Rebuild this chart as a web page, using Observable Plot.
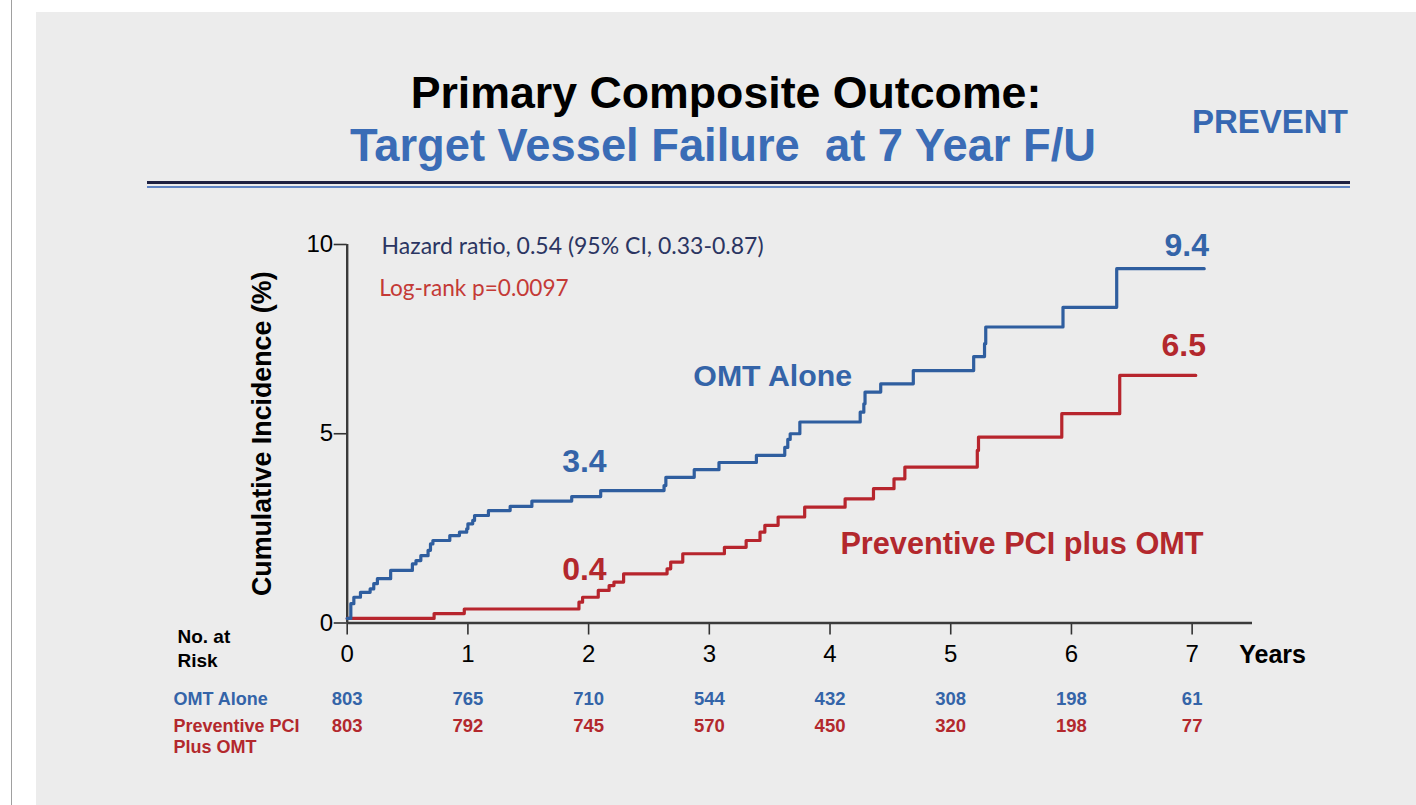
<!DOCTYPE html>
<html>
<head>
<meta charset="utf-8">
<script src="https://cdn.jsdelivr.net/npm/d3@7"></script>
<script src="https://cdn.jsdelivr.net/npm/@observablehq/plot@0.6"></script>
<style>
  html, body { margin: 0; padding: 0; background: #fff; }
  #page { position: relative; width: 1416px; height: 805px; overflow: hidden; background: #fff; font-family: "Liberation Sans", Arial, sans-serif; }
  .abs { position: absolute; }
  .title { left: 36px; right: 0; text-align: center; font-weight: bold; white-space: pre; }
</style>
</head>
<body>
<div id="page">
  <div class="abs" style="left:11px;top:0;width:1px;height:805px;background:#a0a0a0"></div>
  <div class="abs" style="left:36px;top:12px;right:0;bottom:0;background:#ececec"></div>
  <div class="abs title" id="t1" style="top:71px;color:#000;font-size:44.7px;line-height:44.7px">Primary Composite Outcome:</div>
  <div class="abs title" id="t2" style="top:123px;color:#3a6cb6;font-size:45.3px;line-height:45.3px;left:30px">Target Vessel Failure  at 7 Year F/U</div>
  <div class="abs" id="t3" style="left:1192px;top:105px;font-weight:bold;font-size:33px;line-height:33px;color:#3768b2">PREVENT</div>
  <div class="abs" style="left:147px;top:181px;width:1203px;height:3px;background:#1e2142"></div>
  <div class="abs" style="left:147px;top:186px;width:1203px;height:2px;background:#5f84c4"></div>
  <div class="abs" id="chart" style="left:0;top:200px"></div>
</div>
<script>
// ---- data ----
const omtYears  = [0, 0.03, 0.055, 0.11, 0.19, 0.22, 0.25, 0.36, 0.54, 0.57, 0.61, 0.67, 0.69, 0.71, 0.85, 0.93, 0.99, 1.0, 1.04, 1.055, 1.17, 1.35, 1.53, 1.86, 2.10, 2.625, 2.64, 2.875, 3.08, 3.39, 3.625, 3.65, 3.67, 3.75, 4.25, 4.28, 4.29, 4.42, 4.69, 5.19, 5.28, 5.29, 5.93, 6.375, 7.1];
const omtValues = [0.12, 0.51, 0.68, 0.81, 0.90, 1.04, 1.17, 1.39, 1.56, 1.65, 1.78, 1.92, 2.09, 2.18, 2.31, 2.40, 2.49, 2.62, 2.71, 2.84, 2.97, 3.08, 3.22, 3.34, 3.50, 3.63, 3.85, 4.05, 4.24, 4.43, 4.64, 4.85, 5.0, 5.31, 5.57, 5.79, 6.10, 6.32, 6.67, 7.04, 7.38, 7.82, 8.34, 9.36, 9.36];
const pciYears  = [0, 0.72, 0.97, 1.92, 1.95, 2.08, 2.17, 2.21, 2.29, 2.65, 2.68, 2.78, 3.125, 3.305, 3.42, 3.46, 3.57, 3.79, 4.125, 4.36, 4.53, 4.62, 5.22, 5.23, 5.92, 6.40, 7.03];
const pciValues = [0.12, 0.25, 0.37, 0.55, 0.68, 0.86, 0.99, 1.08, 1.30, 1.43, 1.61, 1.83, 2.0, 2.18, 2.40, 2.58, 2.80, 3.06, 3.28, 3.55, 3.81, 4.12, 4.56, 4.91, 5.53, 6.54, 6.54];
const riskYears = [0, 1, 2, 3, 4, 5, 6, 7];
const omtRisk   = [803, 765, 710, 544, 432, 308, 198, 61];
const pciRisk   = [803, 792, 745, 570, 450, 320, 198, 77];
const yTicks = [0, 5, 10];

// ---- styles ----
const BLUE = "#2f5e9f", RED = "#b7252d";
const BLUE_T = "#3464a8", RED_T = "#b3282d";
const F = "Liberation Sans, Arial, sans-serif";

const omt = omtYears.map((t, i) => ({t, v: omtValues[i]}));
const pci = pciYears.map((t, i) => ({t, v: pciValues[i]}));
const riskO = riskYears.map((t, i) => ({t, n: omtRisk[i]}));
const riskP = riskYears.map((t, i) => ({t, n: pciRisk[i]}));

const chart = Plot.plot({
  width: 1416, height: 605,
  marginLeft: 346.7, marginRight: 164, marginTop: 44, marginBottom: 182.5,
  x: {domain: [0, 7.5]},
  y: {domain: [0, 10]},
  style: {background: "transparent", fontFamily: F, color: "#000", overflow: "visible"},
  marks: [
    Plot.axisX({ticks: riskYears, tickSize: 12, tickPadding: 10, fontSize: 24, label: null, stroke: "#333", strokeWidth: 1.6, fill: "#000"}),
    Plot.axisY({ticks: yTicks, tickSize: 13, tickPadding: 1, fontSize: 24, label: null, stroke: "#333", strokeWidth: 1.6, fill: "#000"}),
    Plot.ruleY([0], {stroke: "#3a3a3a", strokeWidth: 2.4}),
    Plot.ruleX([0], {y1: 0, y2: 10, stroke: "#3a3a3a", strokeWidth: 2.4}),
    Plot.line(pci, {x: "t", y: "v", curve: "step-after", stroke: RED, strokeWidth: 3.2}),
    Plot.line(omt, {x: "t", y: "v", curve: "step-after", stroke: BLUE, strokeWidth: 3.2}),
    // y-axis title
    Plot.text(["Cumulative Incidence (%)"], {x: -0.7, y: 5, rotate: -90, fontSize: 26.8, fontWeight: "bold", fill: "#000"}),
    // statistics
    Plot.text(["Hazard ratio, 0.54 (95% CI, 0.33-0.87)"], {x: 0.285, y: 9.95, textAnchor: "start", fontSize: 23, fontFamily: "Lato, sans-serif", fill: "#2b3562"}),
    Plot.text(["Log-rank p=0.0097"], {x: 0.265, y: 8.84, textAnchor: "start", fontSize: 22.6, fontFamily: "Lato, sans-serif", fill: "#c43a36"}),
    // curve labels
    Plot.text(["OMT Alone"], {x: 3.525, y: 6.51, fontSize: 30.3, fontWeight: "bold", fill: BLUE_T}),
    Plot.text(["Preventive PCI plus OMT"], {x: 7.095, y: 2.07, textAnchor: "end", fontSize: 30.7, fontWeight: "bold", fill: RED_T}),
    Plot.text(["3.4"], {x: 1.965, y: 4.25, fontSize: 32, fontWeight: "bold", fill: BLUE_T}),
    Plot.text(["0.4"], {x: 1.965, y: 1.41, fontSize: 32, fontWeight: "bold", fill: RED_T}),
    Plot.text(["9.4"], {x: 6.955, y: 9.97, fontSize: 32, fontWeight: "bold", fill: BLUE_T}),
    Plot.text(["6.5"], {x: 6.93, y: 7.33, fontSize: 32, fontWeight: "bold", fill: RED_T}),
    // x-axis title
    Plot.text(["Years"], {x: 7.39, y: 0, dy: 32, textAnchor: "start", fontSize: 25, fontWeight: "bold", fill: "#000"}),
    // number at risk table
    Plot.text(["No. at"], {x: -1.406, y: 0, dy: 14, textAnchor: "start", fontSize: 19, fontWeight: "bold", fill: "#000"}),
    Plot.text(["Risk"], {x: -1.406, y: 0, dy: 38, textAnchor: "start", fontSize: 19, fontWeight: "bold", fill: "#000"}),
    Plot.text(["OMT Alone"], {x: -1.44, y: 0, dy: 76.5, textAnchor: "start", fontSize: 18, fontWeight: "bold", fill: BLUE_T}),
    Plot.text(["Preventive PCI"], {x: -1.44, y: 0, dy: 103.5, textAnchor: "start", fontSize: 18, fontWeight: "bold", fill: RED_T}),
    Plot.text(["Plus OMT"], {x: -1.44, y: 0, dy: 124, textAnchor: "start", fontSize: 18, fontWeight: "bold", fill: RED_T}),
    Plot.text(riskO, {x: "t", y: 0, dy: 76.5, text: "n", fontSize: 18.5, fontWeight: "bold", fill: BLUE_T}),
    Plot.text(riskP, {x: "t", y: 0, dy: 103.5, text: "n", fontSize: 18.5, fontWeight: "bold", fill: RED_T})
  ]
});
document.getElementById("chart").appendChild(chart);
</script>
</body>
</html>
